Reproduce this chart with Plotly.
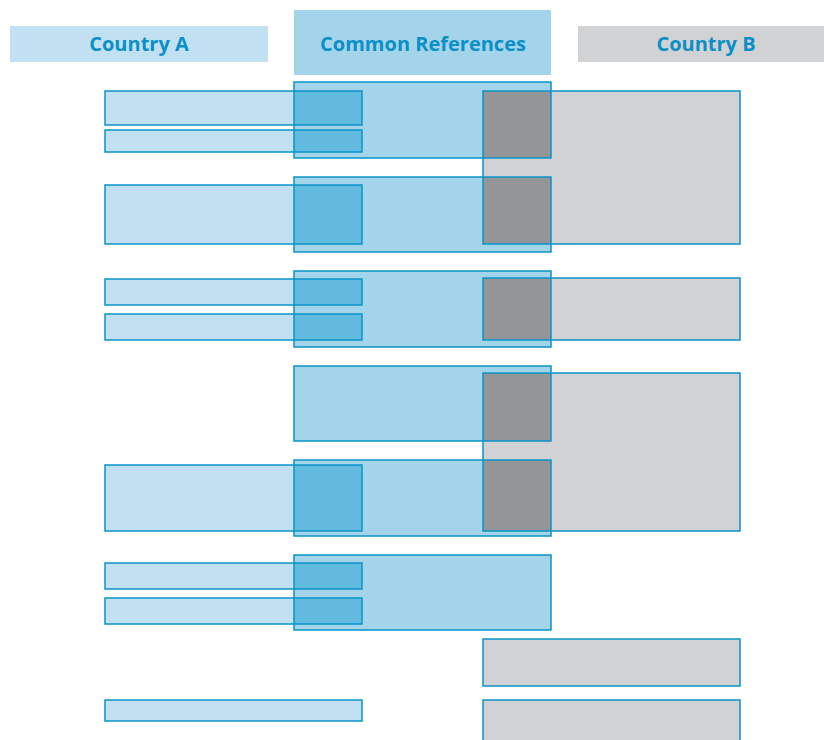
import plotly.graph_objects as go

# Column extents (diagram units)
col_labels = ["Country A", "Common References", "Country B"]
col_x = {"Country A": (105, 362), "Common References": (294, 551), "Country B": (483, 740)}
header_x = {"Country A": (10, 268), "Common References": (294, 551), "Country B": (578, 824)}
header_y = {"Country A": (26, 62), "Common References": (10, 75), "Country B": (26, 62)}
label_x = [139, 423, 706]
label_y = [46, 46, 46]

# Row extents (top, bottom) for each column's boxes
country_a_rows = [(91, 125), (130, 152), (185, 244), (279, 305), (314, 340),
                  (465, 531), (563, 589), (598, 624), (700, 721)]
common_rows = [(82, 158), (177, 252), (271, 347), (366, 441), (460, 536), (555, 630)]
country_b_rows = [(91, 244), (278, 340), (373, 531), (639, 686), (700, 745)]

fill = {"Country A": "#c1e1f2", "Common References": "#a3d4ea", "Country B": "#d1d2d4"}
overlap_fill = {("Country A", "Common References"): "#62bade",
                ("Common References", "Country B"): "#939598"}
stroke = "#0a94c9"
text_color = "#0a8fc6"

rows = {"Country A": country_a_rows, "Common References": common_rows, "Country B": country_b_rows}

fig = go.Figure()
shapes = []

# header boxes
for c in col_labels:
    x0, x1 = header_x[c]
    y0, y1 = header_y[c]
    shapes.append(dict(type="rect", xref="x", yref="y", x0=x0, x1=x1, y0=y0, y1=y1,
                       fillcolor=fill[c], line=dict(width=0), layer="below"))

# fills
for c in col_labels:
    x0, x1 = col_x[c]
    for (t, b) in rows[c]:
        shapes.append(dict(type="rect", xref="x", yref="y", x0=x0, x1=x1, y0=t, y1=b,
                           fillcolor=fill[c], line=dict(width=0)))

# overlaps
for (ca, cb), col in overlap_fill.items():
    ax0, ax1 = col_x[ca]
    bx0, bx1 = col_x[cb]
    ox0, ox1 = max(ax0, bx0), min(ax1, bx1)
    for (t1, b1) in rows[ca]:
        for (t2, b2) in rows[cb]:
            ot, ob = max(t1, t2), min(b1, b2)
            if ob > ot and ox1 > ox0:
                shapes.append(dict(type="rect", xref="x", yref="y", x0=ox0, x1=ox1, y0=ot, y1=ob,
                                   fillcolor=col, line=dict(width=0)))

# outlines
for c in col_labels:
    x0, x1 = col_x[c]
    for (t, b) in rows[c]:
        shapes.append(dict(type="rect", xref="x", yref="y", x0=x0, x1=x1, y0=t, y1=b,
                           fillcolor="rgba(0,0,0,0)", line=dict(color=stroke, width=1.5)))

# header text
fig.add_trace(go.Scatter(x=label_x, y=label_y, mode="text", text=["<b>%s</b>" % c for c in col_labels],
                         textfont=dict(family="Open Sans, sans-serif", size=20, color=text_color),
                         hoverinfo="skip", showlegend=False))

fig.update_layout(
    width=824, height=740, margin=dict(l=0, r=0, t=0, b=0),
    paper_bgcolor="white", plot_bgcolor="white", shapes=shapes,
    xaxis=dict(range=[0, 824], visible=False, fixedrange=True),
    yaxis=dict(range=[740, 0], visible=False, fixedrange=True),
)
fig.write_html("out.html", config={"displayModeBar": False},
               post_script="document.body.style.margin='0';document.body.style.overflow='hidden';")
